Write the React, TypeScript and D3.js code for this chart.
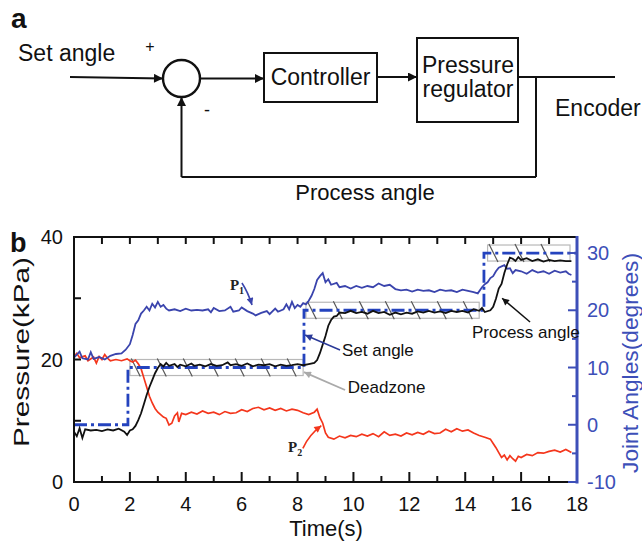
import React, { useEffect, useRef } from 'react';
import * as d3 from 'd3';

// time axis (s) and tick values
const timeTicks = [0, 2, 4, 6, 8, 10, 12, 14, 16, 18];
const pressureTicks = [0, 20, 40];
const angleTicks = [-10, 0, 10, 20, 30];

// P1 pressure (kPa), [time, value]
const p1: [number, number][] = [
  [0, 20.3], [0.2, 21.3], [0.3, 20.2], [0.5, 20.0], [0.6, 21.2], [0.7, 20.1], [0.9, 20.4], [1.1, 20.0],
  [1.3, 20.6], [1.5, 20.9], [1.7, 21.0], [1.85, 21.6], [2.0, 22.5], [2.1, 24.0], [2.2, 25.8], [2.3, 26.4],
  [2.4, 27.5], [2.5, 28.0], [2.6, 28.6], [2.7, 28.0], [2.8, 29.1], [2.9, 28.5], [3.0, 29.4], [3.1, 28.6],
  [3.2, 28.9], [3.3, 28.3], [3.4, 28.0], [3.6, 28.2], [3.8, 27.9], [4.0, 28.3], [4.2, 28.0], [4.4, 28.1],
  [4.6, 28.0], [4.8, 28.2], [4.9, 27.7], [5.0, 28.4], [5.2, 27.9], [5.4, 28.0], [5.6, 28.6], [5.7, 27.8],
  [5.9, 28.0], [6.0, 28.5], [6.2, 27.9], [6.4, 27.5], [6.5, 27.2], [6.7, 27.6], [6.9, 27.9], [7.0, 27.4],
  [7.2, 28.3], [7.3, 27.8], [7.5, 28.2], [7.6, 29.0], [7.7, 28.2], [7.8, 29.4], [7.9, 28.4], [8.0, 28.9],
  [8.1, 28.6], [8.2, 29.2], [8.3, 29.0], [8.4, 29.6], [8.5, 30.4], [8.6, 31.5], [8.7, 33.0], [8.8, 33.6],
  [8.9, 34.1], [9.0, 32.6], [9.1, 33.1], [9.2, 32.2], [9.4, 32.5], [9.5, 31.8], [9.7, 32.0], [9.9, 31.6],
  [10.1, 32.0], [10.3, 31.7], [10.5, 32.0], [10.7, 31.8], [10.9, 32.4], [11.1, 32.0], [11.3, 32.2], [11.5, 31.5],
  [11.7, 31.3], [11.9, 31.4], [12.1, 31.1], [12.3, 31.4], [12.5, 31.2], [12.7, 31.3], [12.9, 31.0], [13.1, 31.4],
  [13.3, 31.2], [13.5, 31.3], [13.7, 31.0], [13.9, 31.4], [14.1, 31.2], [14.3, 31.0], [14.45, 30.8], [14.6, 31.8],
  [14.7, 32.3], [14.8, 32.6], [14.9, 33.3], [15.0, 33.6], [15.1, 34.4], [15.2, 35.0], [15.3, 35.2], [15.4, 35.4],
  [15.5, 34.8], [15.6, 34.9], [15.7, 34.1], [15.8, 34.6], [16.0, 34.4], [16.2, 34.0], [16.4, 34.6], [16.6, 34.2],
  [16.8, 34.4], [17.0, 34.0], [17.2, 34.5], [17.4, 34.2], [17.6, 34.4], [17.7, 34.0], [17.8, 33.8],
];

// P2 pressure (kPa)
const p2: [number, number][] = [
  [0, 20.5], [0.1, 21.0], [0.2, 20.3], [0.4, 20.6], [0.5, 19.8], [0.7, 20.4], [0.8, 19.4], [0.9, 20.5],
  [1.0, 20.0], [1.1, 20.8], [1.2, 20.2], [1.3, 19.8], [1.5, 20.0], [1.7, 19.8], [1.9, 20.1], [2.0, 19.8],
  [2.1, 19.6], [2.2, 19.9], [2.3, 19.3], [2.4, 18.5], [2.5, 17.0], [2.6, 15.5], [2.7, 14.0], [2.8, 12.9],
  [2.9, 12.0], [3.0, 11.4], [3.1, 11.0], [3.2, 10.6], [3.3, 10.4], [3.4, 9.3], [3.5, 9.6], [3.6, 10.8],
  [3.7, 11.3], [3.75, 9.8], [3.85, 11.2], [4.0, 11.0], [4.2, 11.4], [4.4, 11.1], [4.6, 11.6], [4.8, 11.2],
  [5.0, 11.4], [5.2, 11.0], [5.4, 11.5], [5.6, 11.2], [5.8, 11.3], [6.0, 11.8], [6.2, 11.5], [6.4, 12.0],
  [6.6, 12.2], [6.8, 11.8], [7.0, 12.1], [7.2, 11.7], [7.4, 12.0], [7.6, 11.6], [7.8, 11.9], [8.0, 11.7],
  [8.2, 11.3], [8.4, 11.0], [8.6, 11.4], [8.7, 11.9], [8.8, 10.5], [8.9, 9.6], [9.0, 8.0], [9.1, 7.3],
  [9.3, 7.0], [9.5, 7.5], [9.7, 7.2], [9.9, 7.6], [10.1, 7.4], [10.3, 7.8], [10.5, 7.5], [10.7, 7.9],
  [10.9, 7.4], [11.1, 8.2], [11.3, 7.6], [11.5, 7.8], [11.7, 7.5], [11.9, 8.0], [12.1, 7.7], [12.3, 8.1],
  [12.5, 7.8], [12.7, 8.3], [12.9, 7.9], [13.1, 8.0], [13.3, 8.6], [13.5, 8.2], [13.7, 8.7], [13.9, 8.3],
  [14.1, 8.5], [14.3, 8.0], [14.5, 7.6], [14.7, 7.3], [14.9, 7.0], [15.0, 6.3], [15.1, 5.6], [15.2, 4.8],
  [15.3, 4.0], [15.4, 4.4], [15.5, 3.6], [15.6, 4.3], [15.7, 3.8], [15.8, 3.4], [15.9, 4.2], [16.0, 4.0],
  [16.2, 4.5], [16.4, 4.3], [16.6, 4.8], [16.8, 4.7], [17.0, 5.0], [17.2, 5.2], [17.4, 4.9], [17.6, 5.3],
  [17.8, 4.8],
];

// set angle (degrees)
const setAngle: [number, number][] = [
  [0, 0], [1.93, 0], [1.93, 10], [8.23, 10], [8.23, 20], [14.67, 20], [14.67, 30], [18, 30],
];

// process angle (degrees)
const processAngle: [number, number][] = [
  [0, -1.2], [0.1, -2.0], [0.2, -0.6], [0.3, -2.3], [0.4, -0.8], [0.6, -1.0], [0.8, -0.9], [1.0, -1.1],
  [1.2, -0.8], [1.4, -1.0], [1.6, -0.7], [1.8, -1.2], [1.9, -1.8], [2.0, -1.0], [2.1, -0.8], [2.2, -0.2],
  [2.3, 0.8], [2.4, 2.0], [2.5, 3.6], [2.6, 5.2], [2.7, 6.6], [2.8, 7.8], [2.9, 9.0], [3.0, 9.9],
  [3.1, 10.6], [3.2, 10.2], [3.3, 10.8], [3.4, 10.3], [3.6, 10.6], [3.7, 10.1], [3.8, 10.5], [4.0, 10.2],
  [4.2, 10.7], [4.3, 10.3], [4.5, 10.5], [4.7, 10.2], [4.9, 10.6], [5.1, 10.3], [5.3, 10.4], [5.5, 10.9],
  [5.6, 10.4], [5.8, 10.6], [6.0, 10.3], [6.2, 10.7], [6.4, 10.2], [6.6, 10.5], [6.8, 10.4], [7.0, 10.6],
  [7.2, 10.2], [7.4, 10.5], [7.6, 10.3], [7.8, 10.4], [8.0, 10.6], [8.2, 10.4], [8.4, 10.6], [8.6, 10.8],
  [8.7, 11.3], [8.8, 12.5], [8.9, 14.0], [9.0, 15.5], [9.1, 17.3], [9.2, 18.3], [9.3, 18.9], [9.4, 19.0],
  [9.5, 19.6], [9.7, 19.5], [9.9, 19.9], [10.1, 19.5], [10.3, 19.7], [10.5, 19.4], [10.7, 19.9], [10.9, 19.5],
  [11.1, 19.7], [11.3, 19.2], [11.5, 19.6], [11.7, 19.3], [11.9, 19.6], [12.1, 19.4], [12.3, 19.8], [12.5, 19.6],
  [12.7, 19.9], [12.9, 19.6], [13.1, 19.8], [13.3, 19.5], [13.5, 19.9], [13.7, 19.7], [13.9, 19.9], [14.1, 19.6],
  [14.3, 20.2], [14.5, 19.9], [14.6, 20.4], [14.7, 19.7], [14.9, 20.0], [15.0, 20.6], [15.1, 22.0], [15.2, 23.8],
  [15.3, 24.6], [15.4, 26.5], [15.5, 28.0], [15.6, 29.2], [15.7, 29.0], [15.8, 28.6], [15.9, 29.3], [16.0, 28.8],
  [16.2, 29.1], [16.4, 28.6], [16.6, 28.9], [16.8, 28.5], [17.0, 28.8], [17.2, 28.6], [17.4, 28.7], [17.6, 28.6],
  [17.8, 28.6],
];

// deadzones: [start s, end s, set angle deg]
const deadzones: [number, number, number][] = [
  [2.0, 8.2, 10], [8.3, 14.5, 20], [14.8, 17.75, 30],
];
const deadband = 1.4;

const SANS = 'Liberation Sans, Arial, Helvetica, sans-serif';
const BLUE = '#3a44ad';
const AXISBLUE = '#3d4fb8';
const RED = '#f4361c';

export default function App() {
  const ref = useRef<SVGSVGElement>(null);

  useEffect(() => {
    const svg = d3.select(ref.current);
    svg.selectAll('*').remove();

    const defs = svg.append('defs');
    const marker = (id: string, color: string, w: number, h: number) => {
      defs.append('marker')
        .attr('id', id)
        .attr('viewBox', '0 0 10 10')
        .attr('refX', 10).attr('refY', 5)
        .attr('markerUnits', 'userSpaceOnUse')
        .attr('markerWidth', w).attr('markerHeight', h)
        .attr('orient', 'auto')
        .append('path').attr('d', 'M0,0 L10,5 L0,10 z').attr('fill', color);
    };
    marker('ah-black', '#111', 11, 9);
    marker('ah-k', '#111', 9, 7);
    marker('ah-blue', BLUE, 9, 7);
    marker('ah-red', RED, 9, 7);
    marker('ah-gray', '#aaa', 9, 7);
    marker('ah-navy', '#2b3a98', 9, 7);

    // ---------- (a) block diagram ----------
    const dg = svg.append('g').attr('stroke', '#111').attr('stroke-width', 2).attr('fill', 'none');
    const seg = (x1: number, y1: number, x2: number, y2: number, arrow = false) => {
      const l = dg.append('line').attr('x1', x1).attr('y1', y1).attr('x2', x2).attr('y2', y2);
      if (arrow) l.attr('marker-end', 'url(#ah-black)');
    };
    const sumX = 181.5, sumY = 78.5, sumR = 18.5;
    seg(70, 77, sumX - sumR, sumY, true);
    dg.append('circle').attr('cx', sumX).attr('cy', sumY).attr('r', sumR).attr('stroke-width', 2.4);
    seg(sumX + sumR, sumY, 264, sumY, true);
    dg.append('rect').attr('x', 264).attr('y', 53).attr('width', 113).attr('height', 49);
    seg(377, 77, 417, 77, true);
    dg.append('rect').attr('x', 417).attr('y', 38).attr('width', 101).attr('height', 84);
    seg(518, 77, 615, 77);
    seg(536, 77, 536, 177);
    seg(536, 177, sumX, 177);
    seg(sumX, 177, sumX, sumY + sumR, true);

    const txt = (x: number, y: number, s: string, size: number, anchor = 'start', weight = 'normal') =>
      svg.append('text').attr('x', x).attr('y', y).attr('font-family', SANS).attr('font-size', size)
        .attr('font-weight', weight).attr('text-anchor', anchor).attr('fill', '#111').text(s);

    txt(11, 28, 'a', 28, 'start', 'bold');
    txt(18, 61, 'Set angle', 23);
    txt(150, 52, '+', 16, 'middle');
    txt(207, 116, '-', 18, 'middle');
    txt(320.5, 85, 'Controller', 23, 'middle');
    txt(468, 73, 'Pressure', 23, 'middle');
    txt(468, 97, 'regulator', 23, 'middle');
    txt(555, 116, 'Encoder', 23);
    txt(365, 200, 'Process angle', 22, 'middle');

    // ---------- (b) chart ----------
    const x = d3.scaleLinear().domain([0, 18]).range([74, 577]);
    const yP = d3.scaleLinear().domain([0, 40]).range([482, 237]);
    const yA = d3.scaleLinear().domain([-10, 32.8]).range([482, 237]);

    txt(10, 252, 'b', 27, 'start', 'bold');

    // deadzone boxes with hatching
    const dz = svg.append('g');
    deadzones.forEach(([t0, t1, a]) => {
      const top = yA(a + deadband), bot = yA(a - deadband);
      dz.append('rect')
        .attr('x', x(t0)).attr('y', top)
        .attr('width', x(t1) - x(t0)).attr('height', bot - top)
        .attr('fill', 'none').attr('stroke', '#b8b8b8').attr('stroke-width', 1.2);
      d3.range(t0 + 0.05, t1 - 0.2, 0.93).forEach((t) => {
        dz.append('line')
          .attr('x1', x(t)).attr('y1', top - 1)
          .attr('x2', x(t) + 9).attr('y2', bot + 1)
          .attr('stroke', '#555').attr('stroke-width', 1.2);
      });
    });

    const lineP = d3.line<[number, number]>().x((d) => x(d[0])).y((d) => yP(d[1]));
    const lineA = d3.line<[number, number]>().x((d) => x(d[0])).y((d) => yA(d[1]));

    svg.append('path').attr('d', lineP(p2)).attr('fill', 'none').attr('stroke', RED).attr('stroke-width', 1.7);
    svg.append('path').attr('d', lineP(p1)).attr('fill', 'none').attr('stroke', BLUE).attr('stroke-width', 1.8);
    svg.append('path').attr('d', lineA(setAngle)).attr('fill', 'none').attr('stroke', '#2443be')
      .attr('stroke-width', 2.8).attr('stroke-dasharray', '13,4,3,4');
    svg.append('path').attr('d', lineA(processAngle)).attr('fill', 'none').attr('stroke', '#111').attr('stroke-width', 1.8);

    // frame and ticks
    const ax = svg.append('g').attr('stroke', '#111').attr('stroke-width', 2);
    ax.append('line').attr('x1', x(0)).attr('y1', yP(40)).attr('x2', x(18)).attr('y2', yP(40));
    ax.append('line').attr('x1', x(0)).attr('y1', yP(0)).attr('x2', x(18)).attr('y2', yP(0));
    ax.append('line').attr('x1', x(0)).attr('y1', yP(0) + 1).attr('x2', x(0)).attr('y2', yP(40) - 1);
    d3.range(0, 19, 1).forEach((t) => {
      const major = t % 2 === 0;
      if (t > 0 && t < 18) {
        ax.append('line').attr('x1', x(t)).attr('x2', x(t))
          .attr('y1', yP(0)).attr('y2', yP(0) - (major ? 10 : 6));
        ax.append('line').attr('x1', x(t)).attr('x2', x(t))
          .attr('y1', yP(40)).attr('y2', yP(40) + 7);
      }
    });
    [10, 20, 30].forEach((p) => {
      ax.append('line').attr('x1', x(0)).attr('x2', x(0) + 7).attr('y1', yP(p)).attr('y2', yP(p));
    });

    const rax = svg.append('g').attr('stroke', AXISBLUE);
    rax.append('line').attr('x1', x(18)).attr('x2', x(18)).attr('y1', yP(40) - 1).attr('y2', yP(0) + 1.5)
      .attr('stroke-width', 3);
    d3.range(-10, 31, 5).forEach((a) => {
      const major = a % 10 === 0;
      rax.append('line').attr('x1', x(18)).attr('x2', x(18) - (major ? 9 : 5))
        .attr('y1', yA(a)).attr('y2', yA(a)).attr('stroke-width', 2);
    });

    // tick labels
    const lab = svg.append('g').attr('font-family', SANS).attr('font-size', 20);
    timeTicks.forEach((t) => {
      lab.append('text').attr('x', x(t)).attr('y', 511).attr('text-anchor', 'middle').attr('fill', '#111').text(t);
    });
    pressureTicks.forEach((p) => {
      lab.append('text').attr('x', 63).attr('y', yP(p) + 7).attr('text-anchor', 'end').attr('fill', '#111').text(p);
    });
    angleTicks.forEach((a) => {
      lab.append('text').attr('x', 587).attr('y', yA(a) + 7).attr('fill', AXISBLUE).text(a);
    });

    // axis titles
    svg.append('text').attr('transform', 'translate(29,352) rotate(-90)')
      .attr('text-anchor', 'middle').attr('font-family', SANS).attr('font-size', 22).attr('fill', '#111')
      .attr('textLength', 190).attr('lengthAdjust', 'spacingAndGlyphs').text('Pressure(kPa)');
    svg.append('text').attr('x', 326).attr('y', 536)
      .attr('text-anchor', 'middle').attr('font-family', SANS).attr('font-size', 22).attr('fill', '#111')
      .text('Time(s)');
    svg.append('text').attr('transform', 'translate(638,363) rotate(-90)')
      .attr('text-anchor', 'middle').attr('font-family', SANS).attr('font-size', 22).attr('fill', AXISBLUE)
      .attr('textLength', 220).attr('lengthAdjust', 'spacingAndGlyphs').text('Joint Angles(degrees)');

    // annotations (data coordinates)
    const arrowA = (t0: number, a0: number, t1: number, a1: number, color: string, m: string, w = 1.5) =>
      svg.append('line').attr('x1', x(t0)).attr('y1', yA(a0)).attr('x2', x(t1)).attr('y2', yA(a1))
        .attr('stroke', color).attr('stroke-width', w).attr('marker-end', `url(#${m})`);
    const arrowP = (t0: number, p0: number, t1: number, p1v: number, color: string, m: string) =>
      svg.append('path')
        .attr('d', `M${x(t0)},${yP(p0)} Q${x(t0) + 6},${(yP(p0) + yP(p1v)) / 2 - 2} ${x(t1)},${yP(p1v)}`)
        .attr('fill', 'none').attr('stroke', color).attr('stroke-width', 1.6).attr('marker-end', `url(#${m})`);

    arrowP(6.01, 32.5, 6.37, 28.9, BLUE, 'ah-blue');
    arrowP(8.19, 5.5, 8.85, 9.2, RED, 'ah-red');
    arrowA(9.52, 13.06, 8.27, 15.68, '#2b3a98', 'ah-navy');
    arrowA(9.7, 6.07, 8.23, 9.2, '#aaa', 'ah-gray', 1.8);
    arrowA(16.32, 17.95, 15.32, 22.1, '#111', 'ah-k');

    const ptxt = (t: number, p: number, sub: string, color: string) => {
      const tx = svg.append('text').attr('x', x(t)).attr('y', yP(p))
        .attr('font-family', 'Liberation Serif, Times New Roman, serif').attr('font-weight', 'bold')
        .attr('font-size', 15).attr('fill', '#222');
      tx.append('tspan').text('P');
      tx.append('tspan').attr('font-size', 10).attr('dy', 4).text(sub);
      return color;
    };
    ptxt(5.58, 31.4, '1', BLUE);
    ptxt(7.66, 4.9, '2', RED);

    const atxt = (t: number, a: number, s: string) =>
      svg.append('text').attr('x', x(t)).attr('y', yA(a)).attr('font-family', SANS)
        .attr('font-size', 17).attr('fill', '#111').text(s);
    atxt(9.59, 12.0, 'Set angle');
    atxt(9.8, 5.5, 'Deadzone');
    atxt(14.24, 15.15, 'Process angle');
  }, []);

  return (
    <svg ref={ref} width={642} height={541}
      style={{ position: 'absolute', left: 0, top: 0, background: '#fff' }} />
  );
}
